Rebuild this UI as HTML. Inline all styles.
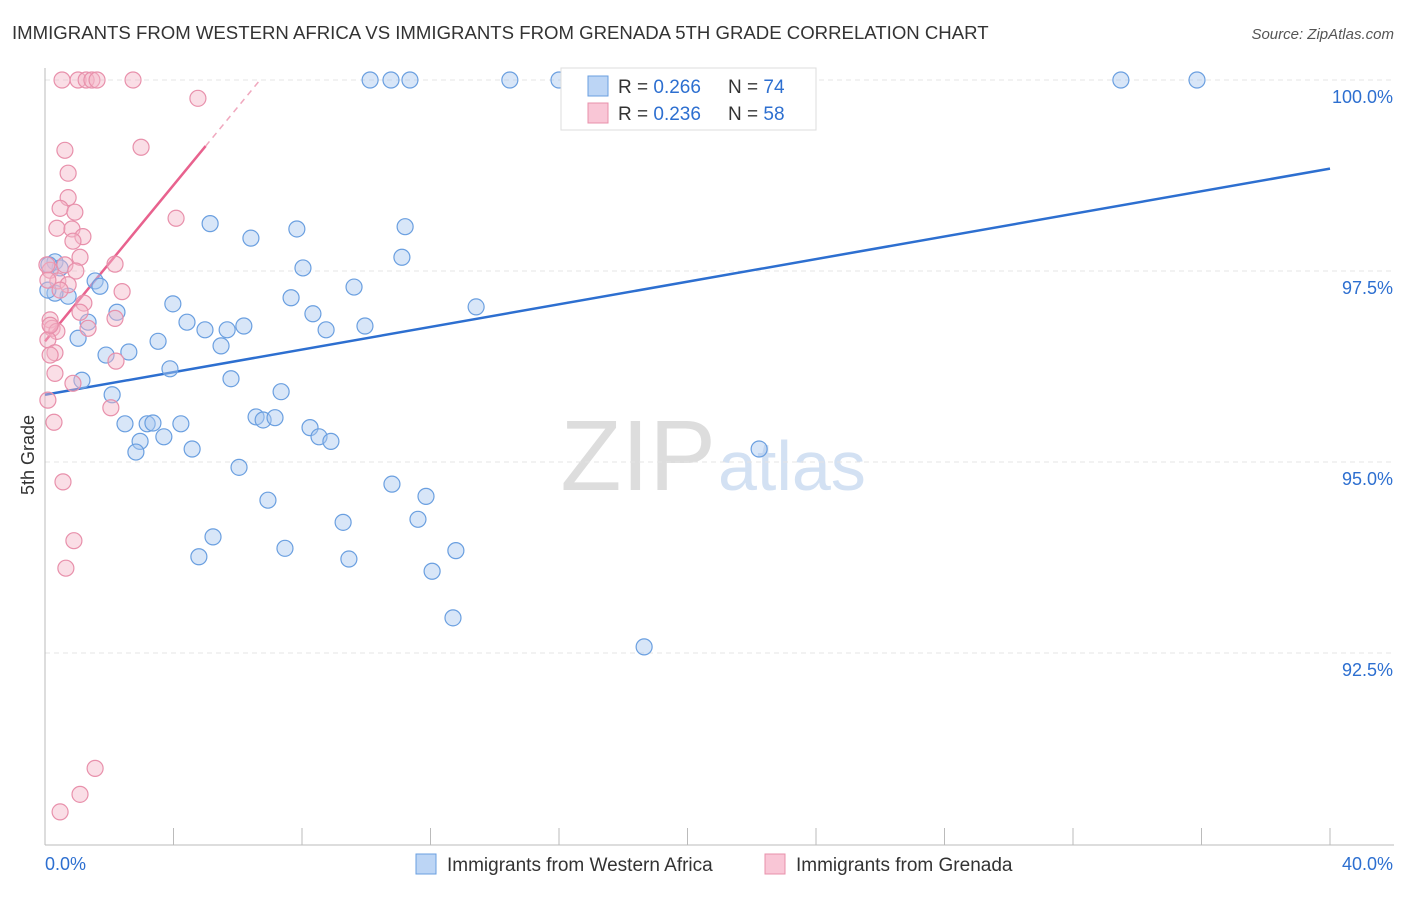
<!DOCTYPE html>
<html><head><meta charset="utf-8"><style>
body{margin:0;background:#fff;font-family:"Liberation Sans",sans-serif;}
svg text{font-family:"Liberation Sans",sans-serif;}
</style></head><body>
<svg id="chart" width="1406" height="892">
<text x="12" y="39" font-size="18.6" fill="#333">IMMIGRANTS FROM WESTERN AFRICA VS IMMIGRANTS FROM GRENADA 5TH GRADE CORRELATION CHART</text>
<text x="1394" y="39" font-size="15" fill="#555" text-anchor="end" font-style="italic">Source: ZipAtlas.com</text>
<text x="716" y="490" font-size="100" fill="#ddd" text-anchor="end" font-family="Liberation Serif">ZIP</text>
<text x="718" y="490" font-size="70" fill="#d3e1f3">atlas</text>
<text x="34" y="455" font-size="18" fill="#333" text-anchor="middle" transform="rotate(-90 34 455)">5th Grade</text>
<g id="grid"></g><g id="axes"></g><g id="trends"></g><g id="pts"></g>
<g>
<rect x="561" y="68" width="255" height="62" fill="#fff" stroke="#ddd"/>
<rect x="588" y="76" width="20" height="20" fill="#bcd5f5" stroke="#6a9fe0"/>
<text x="618" y="93" font-size="19" fill="#333">R = <tspan fill="#2d6fd0">0.266</tspan></text>
<text x="728" y="93" font-size="19" fill="#333">N = <tspan fill="#2d6fd0">74</tspan></text>
<rect x="588" y="103" width="20" height="20" fill="#f9c6d6" stroke="#e890ab"/>
<text x="618" y="120" font-size="19" fill="#333">R = <tspan fill="#2d6fd0">0.236</tspan></text>
<text x="728" y="120" font-size="19" fill="#333">N = <tspan fill="#2d6fd0">58</tspan></text>
</g>
<g>
<rect x="416" y="854" width="20" height="20" fill="#bcd5f5" stroke="#6a9fe0"/>
<text x="447" y="871" font-size="19" fill="#333">Immigrants from Western Africa</text>
<rect x="765" y="854" width="20" height="20" fill="#f9c6d6" stroke="#e890ab"/>
<text x="796" y="871" font-size="19" fill="#333">Immigrants from Grenada</text>
</g>
</svg>
<script>
const blueX=[10.12,10.77,11.36,14.47,16.0,16.62,33.49,35.86,5.14,6.41,7.84,11.21,11.11,8.03,0.31,0.47,1.56,1.71,0.72,0.31,7.66,9.62,13.42,3.98,2.24,4.42,8.34,1.34,4.98,5.67,6.19,8.75,9.96,1.03,3.52,5.48,1.90,2.61,3.89,5.79,1.15,7.35,2.09,2.49,3.18,3.36,4.23,6.57,6.79,7.16,8.25,8.53,8.90,2.96,3.70,2.83,4.58,6.04,22.23,10.80,11.86,6.94,9.28,11.61,5.23,7.47,12.79,4.79,9.46,12.05,12.70,18.65,0.09,0.12];
const blueY=[100,100,100,100,100,100,100,100,98.12,97.93,98.05,98.08,97.68,97.54,97.62,97.54,97.37,97.30,97.17,97.21,97.15,97.29,97.03,97.07,96.96,96.83,96.94,96.83,96.73,96.73,96.78,96.73,96.78,96.62,96.58,96.52,96.40,96.44,96.22,96.09,96.07,95.92,95.88,95.50,95.50,95.51,95.50,95.59,95.55,95.58,95.45,95.33,95.27,95.27,95.33,95.13,95.17,94.93,95.17,94.71,94.55,94.50,94.21,94.25,94.02,93.87,93.84,93.76,93.73,93.57,92.96,92.58,97.25,97.58];
const pinkX=[0.53,1.03,1.28,1.46,1.62,2.74,4.76,2.99,0.62,0.72,0.72,0.47,0.93,0.37,0.84,1.18,0.87,4.08,1.09,2.18,0.62,0.16,0.96,0.40,0.72,2.40,1.21,1.09,2.18,1.34,0.16,0.22,0.37,0.09,0.31,0.16,2.21,0.31,0.87,0.09,2.05,0.28,0.56,0.90,0.65,1.56,1.09,0.47,0.06,0.09,0.16,0.47];
const pinkY=[100,100,100,100,100,100,99.76,99.12,99.08,98.78,98.46,98.32,98.27,98.06,98.05,97.95,97.89,98.19,97.68,97.59,97.58,97.51,97.50,97.37,97.32,97.23,97.08,96.96,96.88,96.75,96.86,96.75,96.71,96.60,96.43,96.40,96.32,96.16,96.03,95.81,95.71,95.52,94.74,93.97,93.61,90.99,90.65,90.42,97.58,97.38,96.79,97.25];
const blueTrend=[95.88,98.84];
const pinkTrend=[96.58,0.511];
const xTicks=[0,4,8,12,16,20,24,28,32,36,40];
const yTicks=[92.5,95,97.5,100];
const yLabels=["92.5%","95.0%","97.5%","100.0%"];
const NS="http://www.w3.org/2000/svg";
const sx=v=>45+v*32.125, sy=v=>80+(100-v)*76.4;
function mk(t,a,p){const e=document.createElementNS(NS,t);for(const k in a)e.setAttribute(k,a[k]);document.getElementById(p).appendChild(e);return e;}
yTicks.forEach((t,i)=>{
 const l=mk('line',{x1:45,x2:1394,y1:sy(t),y2:sy(t),stroke:'#e4e4e4','stroke-dasharray':'5,4'},'grid');
 
 
 const tx=mk('text',{x:1393,y:sy(t)+23,'font-size':18,fill:'#2d6fd0','text-anchor':'end'},'grid');
 tx.textContent=yLabels[i];
 
 
});
let a=mk('line',{x1:45,x2:45,y1:68,y2:845,stroke:'#bbb'},'axes');


a=mk('line',{x1:45,x2:1394,y1:845,y2:845,stroke:'#bbb'},'axes');


xTicks.forEach(t=>{const l=mk('line',{x1:sx(t),x2:sx(t),y1:828,y2:845,stroke:'#bbb'},'axes');
 
 });
let t=mk('text',{x:45,y:870,'font-size':18,fill:'#2d6fd0'},'axes');t.textContent='0.0%';


t=mk('text',{x:1393,y:870,'font-size':18,fill:'#2d6fd0','text-anchor':'end'},'axes');t.textContent='40.0%';


function pts(X,Y,fill,stroke,name){X.forEach((x,i)=>{const c=mk('circle',{cx:sx(x),cy:sy(Y[i]),r:8,fill:fill,'fill-opacity':0.45,stroke:stroke,'stroke-width':1.2},'pts');
 
 });}
pts(blueX,blueY,'#a8c8f0','#6a9fe0','point-western-africa');
pts(pinkX,pinkY,'#f4b5c8','#e890ab','point-grenada');
let tl=mk('line',{x1:sx(0),y1:sy(blueTrend[0]),x2:sx(40),y2:sy(blueTrend[1]),stroke:'#2d6fd0','stroke-width':2.5},'trends');


const pe=5.0;
tl=mk('line',{x1:sx(0),y1:sy(pinkTrend[0]),x2:sx(pe),y2:sy(pinkTrend[0]+pinkTrend[1]*pe),stroke:'#e8628e','stroke-width':2.5},'trends');


const pe2=(100-pinkTrend[0])/pinkTrend[1];
tl=mk('line',{x1:sx(pe),y1:sy(pinkTrend[0]+pinkTrend[1]*pe),x2:sx(pe2),y2:sy(100),stroke:'#f0a8be','stroke-width':1.5,'stroke-dasharray':'6,5'},'trends');


</script>
</body></html>
